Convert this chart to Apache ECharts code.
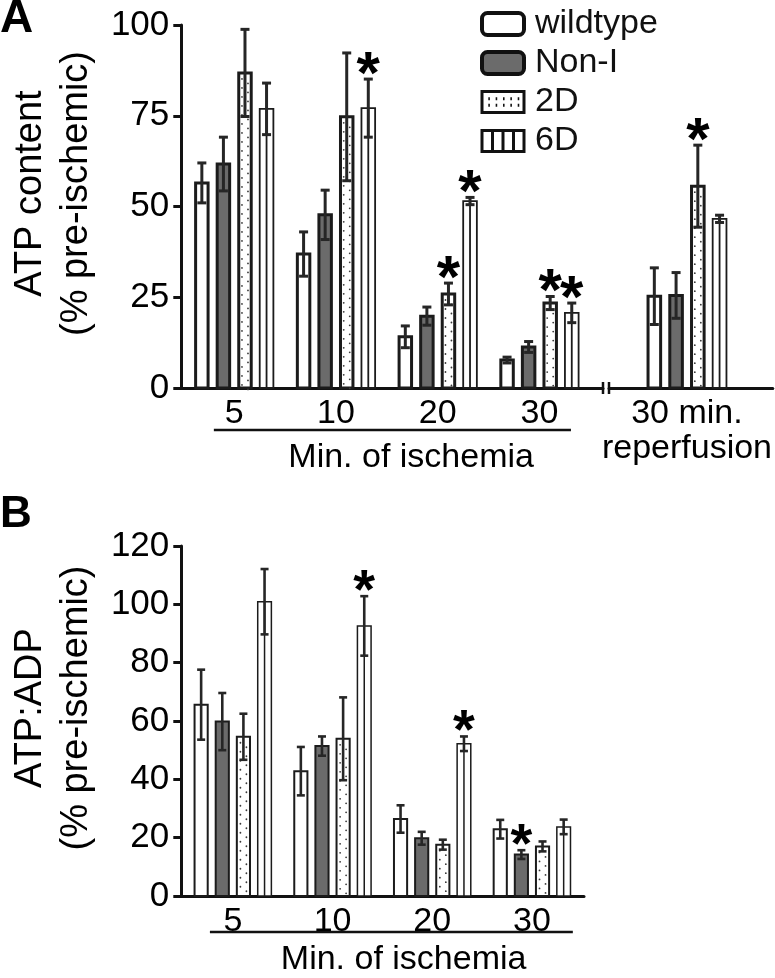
<!DOCTYPE html>
<html><head><meta charset="utf-8">
<script src="https://cdn.jsdelivr.net/npm/echarts@6/dist/echarts.min.js"></script>
<style>html,body{margin:0;padding:0;background:#fff}#chart{width:775px;height:978px}</style>
</head><body><div id="chart"></div>
<script>
// ---------- data ----------
const seriesNames = ['wildtype', 'Non-I', '2D', '6D'];
const ischemiaMinutes = ['5', '10', '20', '30'];
const reperfusionLabel = ['30 min.\nreperfusion'];

// Panel A: ATP content (% pre-ischemic), ischemia 5/10/20/30 min
const atpWildtype = [56.5, 36.9, 14.1, 7.7];
const atpWildtypeErr = [5.5, 6.1, 3.0, 0.8];
const atpNonI = [61.7, 47.7, 19.8, 11.3];
const atpNonIErr = [7.4, 6.8, 2.5, 1.5];
const atp2D = [86.8, 74.7, 25.9, 23.4];
const atp2DErr = [12.0, 17.6, 3.0, 1.8];
const atp6D = [76.9, 77.1, 51.5, 20.7];
const atp6DErr = [7.1, 8.0, 1.0, 2.7];
const atpWildtypeSig = [0, 0, 0, 0];
const atpNonISig = [0, 0, 0, 0];
const atp2DSig = [0, 0, 1, 1];
const atp6DSig = [0, 1, 1, 1];

// Panel A: 30 min reperfusion (wildtype, Non-I, 2D, 6D)
const atpReperfusion = [25.3, 25.5, 55.6, 46.6];
const atpReperfusionErr = [7.8, 6.3, 11.3, 1.0];
const atpReperfusionSig = [0, 0, 1, 0];

// Panel B: ATP:ADP (% pre-ischemic)
const ratioWildtype = [65.6, 42.8, 26.4, 22.9];
const ratioWildtypeErr = [12.0, 8.3, 4.7, 3.2];
const ratioNonI = [59.8, 51.4, 19.8, 14.2];
const ratioNonIErr = [9.8, 3.3, 2.2, 1.5];
const ratio2D = [54.6, 53.9, 17.6, 17.0];
const ratio2DErr = [7.9, 14.2, 1.7, 1.7];
const ratio6D = [100.9, 92.6, 52.2, 23.7];
const ratio6DErr = [11.2, 10.2, 2.5, 2.5];
const ratioWildtypeSig = [0, 0, 0, 0];
const ratioNonISig = [0, 0, 0, 1];
const ratio2DSig = [0, 0, 0, 0];
const ratio6DSig = [0, 1, 1, 0];

const yTicksA = [0, 25, 50, 75, 100];
const yTicksB = [0, 20, 40, 60, 80, 100, 120];

// ---------- style ----------
const FONT = "'Liberation Sans', Arial, Helvetica, sans-serif";
const EDGE = '#1b1b1b';
const GRAY = '#6b6b6b';
const FILLS = ['#ffffff', GRAY, '#ffffff', '#ffffff'];
const BAR_STEP = 0.212;
const BAR_WIDTH = 0.152;

function makeRenderer(s, st) {
  return function (params, api) {
    const gx = api.value(0), v = api.value(1), e = api.value(2), sig = api.value(3);
    const cx = gx + (s - 1.5) * BAR_STEP;
    const top = api.coord([cx, v]);
    const base = api.coord([cx, 0]);
    const w = api.size([BAR_WIDTH, 0])[0];
    const bw = s === 3 ? st.thin : st.border;
    const px = top[0];
    const x0 = px - w / 2 + bw / 2, x1 = px + w / 2 - bw / 2;
    const ch = [];
    ch.push({ type: 'rect', shape: { x: x0, y: top[1], width: x1 - x0, height: base[1] - top[1] },
      style: { fill: FILLS[s], stroke: EDGE, lineWidth: bw } });
    if (s === 2) {
      for (let y = top[1] + 6; y < base[1] - 3; y += 9) {
        ch.push({ type: 'circle', shape: { cx: px - 3, cy: y, r: 0.9 }, style: { fill: '#3a3a3a' } });
        ch.push({ type: 'circle', shape: { cx: px + 3, cy: y + 4.5, r: 0.9 }, style: { fill: '#3a3a3a' } });
      }
    }
    if (s === 3) {
      ch.push({ type: 'line', shape: { x1: px, y1: top[1], x2: px, y2: base[1] }, style: { stroke: EDGE, lineWidth: st.thin } });
    }
    const hi = api.coord([cx, v + e])[1], lo = api.coord([cx, v - e])[1];
    const errStyle = { stroke: '#262626', lineWidth: st.err };
    ch.push({ type: 'line', shape: { x1: px, y1: hi, x2: px, y2: lo }, style: errStyle });
    ch.push({ type: 'line', shape: { x1: px - st.cap / 2, y1: hi, x2: px + st.cap / 2, y2: hi }, style: errStyle });
    ch.push({ type: 'line', shape: { x1: px - st.cap / 2, y1: lo, x2: px + st.cap / 2, y2: lo }, style: errStyle });
    if (sig) {
      ch.push({ type: 'text', style: { text: '*', x: px, y: hi - st.starGap, align: 'center', verticalAlign: 'middle',
        font: 'bold ' + st.starSize + 'px ' + FONT, fill: '#000' } });
    }
    return { type: 'group', children: ch };
  };
}

function panelSeries(xIdx, yIdx, values, errs, sigs, st) {
  return seriesNames.map((name, s) => ({
    type: 'custom', name, xAxisIndex: xIdx, yAxisIndex: yIdx, silent: true, animation: false,
    itemStyle: { color: FILLS[s], borderColor: EDGE },
    data: values[s].map((v, i) => [i + 1, v, errs[s][i], sigs[s][i]]),
    renderItem: makeRenderer(s, st)
  }));
}

const styleA = { border: 3, thin: 1.8, err: 3, cap: 9, starGap: 3, starSize: 60 };
const styleB = { border: 2, thin: 1.5, err: 2.6, cap: 8, starGap: 4, starSize: 56 };

const series = [].concat(
  panelSeries(0, 0, [atpWildtype, atpNonI, atp2D, atp6D], [atpWildtypeErr, atpNonIErr, atp2DErr, atp6DErr],
    [atpWildtypeSig, atpNonISig, atp2DSig, atp6DSig], styleA),
  panelSeries(1, 1, seriesNames.map((_, s) => [atpReperfusion[s]]), seriesNames.map((_, s) => [atpReperfusionErr[s]]),
    seriesNames.map((_, s) => [atpReperfusionSig[s]]), styleA),
  panelSeries(2, 2, [ratioWildtype, ratioNonI, ratio2D, ratio6D], [ratioWildtypeErr, ratioNonIErr, ratio2DErr, ratio6DErr],
    [ratioWildtypeSig, ratioNonISig, ratio2DSig, ratio6DSig], styleB)
);

const axisLineStyle = { color: '#111', width: 3 };
const tickLabel = { fontSize: 34, fontFamily: FONT, color: '#000' };

function xAxis(grid, min, max, labels, extra) {
  return Object.assign({
    type: 'value', gridIndex: grid, min, max,
    axisLine: { show: true, onZero: false, lineStyle: axisLineStyle },
    axisTick: { show: false }, splitLine: { show: false },
    axisLabel: Object.assign({ customValues: labels.map((_, i) => i + 1), formatter: v => labels[Math.round(v) - 1] || '',
      margin: 8, lineHeight: 35 }, tickLabel)
  }, extra || {});
}
function yAxis(grid, ticks, name, show) {
  return {
    type: 'value', gridIndex: grid, min: ticks[0], max: ticks[ticks.length - 1], interval: ticks[1] - ticks[0], show,
    axisLine: { show: true, lineStyle: axisLineStyle },
    axisTick: { show: true, length: 8, lineStyle: { width: 3, color: '#111' } },
    splitLine: { show: false },
    axisLabel: { margin: 12, fontSize: 35, fontFamily: FONT, color: '#000' },
    name, nameLocation: 'middle', nameRotate: 90, nameGap: 76,
    nameTextStyle: { fontSize: 38, lineHeight: 46, fontFamily: FONT, color: '#000', padding: [0, 0, 0, 26] }
  };
}

const option = {
  backgroundColor: '#fff',
  animation: false,
  title: [
    { text: 'A', left: 0, top: -4, padding: 0, textStyle: { fontSize: 46, fontWeight: 'bold', fontFamily: FONT, color: '#000' } },
    { text: 'B', left: 0, top: 493, padding: 0, textStyle: { fontSize: 44, fontWeight: 'bold', fontFamily: FONT, color: '#000' } }
  ],
  legend: {
    orient: 'vertical', left: 475, top: 2, itemWidth: 42, itemHeight: 22, itemGap: 5, selectedMode: false,
    textStyle: { fontSize: 34, lineHeight: 33, fontFamily: FONT, color: '#111', padding: [0, 0, 0, 6] },
    data: [
      { name: 'wildtype', icon: 'roundRect', itemStyle: { color: '#fff', borderColor: '#111', borderWidth: 4 } },
      { name: 'Non-I', icon: 'roundRect', itemStyle: { color: GRAY, borderColor: '#111', borderWidth: 4 } },
      { name: '2D', icon: 'path://M0,0H40V20H0Z M6,7H7.5 M13,7H14.5 M20,7H21.5 M27,7H28.5 M34,7H35.5 M6,13H7.5 M13,13H14.5 M20,13H21.5 M27,13H28.5 M34,13H35.5',
        itemStyle: { color: '#fff', borderColor: '#111', borderWidth: 3 } },
      { name: '6D', icon: 'path://M0,0H40V20H0Z M10,0V20 M20,0V20 M30,0V20',
        itemStyle: { color: '#fff', borderColor: '#111', borderWidth: 3 } }
    ]
  },
  grid: [
    { left: 172, top: 25, width: 431, height: 363 },
    { left: 609, top: 25, width: 166, height: 363 },
    { left: 174, top: 546, width: 410, height: 360 }
  ],
  xAxis: [
    xAxis(0, 0.48, 4.625, ischemiaMinutes, { name: 'Min. of ischemia', nameLocation: 'middle', nameGap: 53,
      nameTextStyle: { fontSize: 34, fontFamily: FONT, color: '#000', padding: [0, 0, 0, 38] } }),
    xAxis(1, 0.24, 1.837, reperfusionLabel),
    xAxis(2, 0.483, 4.522, ischemiaMinutes, { name: 'Min. of ischemia', nameLocation: 'middle', nameGap: 47,
      nameTextStyle: { fontSize: 34, fontFamily: FONT, color: '#000', padding: [0, 0, 0, 42] } })
  ],
  yAxis: [
    yAxis(0, yTicksA, 'ATP content\n(% pre-ischemic)', true),
    yAxis(1, yTicksA, '', false),
    yAxis(2, yTicksB, 'ATP:ADP\n(% pre-ischemic)', true)
  ],
  series
};

const chart = echarts.init(document.getElementById('chart'), null, { renderer: 'canvas' });
chart.setOption(option);

// decorations positioned through the axes: group underline brackets and axis break marks
const A_BRACKET = [0.8, 4.31], B_BRACKET = [0.77, 4.41];
const a0 = chart.convertToPixel({ xAxisIndex: 0, yAxisIndex: 0 }, [A_BRACKET[0], 0]);
const a1 = chart.convertToPixel({ xAxisIndex: 0, yAxisIndex: 0 }, [A_BRACKET[1], 0]);
const b0 = chart.convertToPixel({ xAxisIndex: 2, yAxisIndex: 2 }, [B_BRACKET[0], 0]);
const b1 = chart.convertToPixel({ xAxisIndex: 2, yAxisIndex: 2 }, [B_BRACKET[1], 0]);
const brk0 = chart.convertToPixel({ xAxisIndex: 0, yAxisIndex: 0 }, [4.625, 0]);
const brk1 = chart.convertToPixel({ xAxisIndex: 1, yAxisIndex: 1 }, [0.24, 0]);
const ln = { stroke: '#111', lineWidth: 2.5 };
chart.setOption({
  graphic: [
    { type: 'line', shape: { x1: a0[0], y1: a0[1] + 42, x2: a1[0], y2: a1[1] + 42 }, style: ln },
    { type: 'line', shape: { x1: b0[0], y1: b0[1] + 36, x2: b1[0], y2: b1[1] + 36 }, style: ln },
    { type: 'line', shape: { x1: brk0[0], y1: brk0[1] - 6, x2: brk0[0], y2: brk0[1] + 6 }, style: ln },
    { type: 'line', shape: { x1: brk1[0], y1: brk1[1] - 6, x2: brk1[0], y2: brk1[1] + 6 }, style: ln }
  ]
});
</script></body></html>
